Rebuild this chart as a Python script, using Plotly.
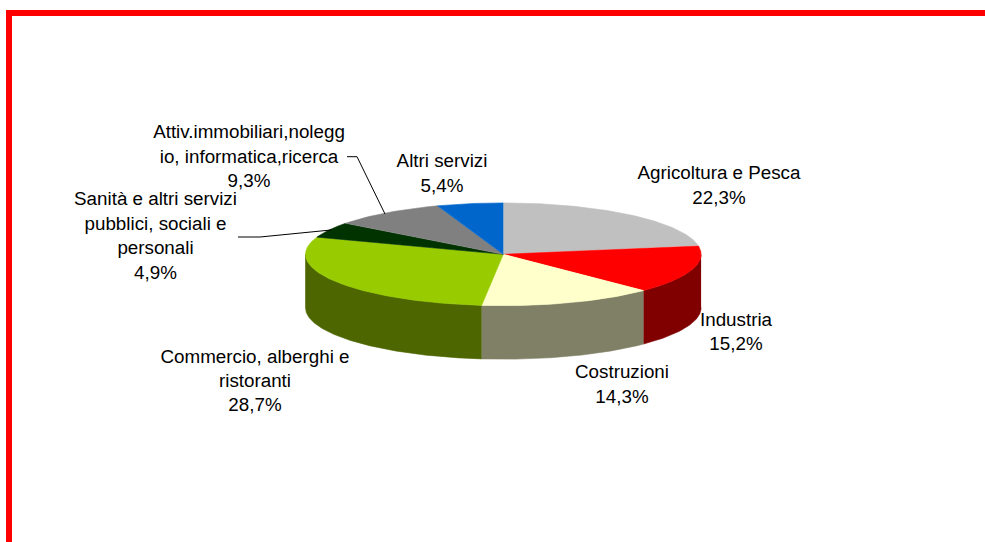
import math
import plotly.graph_objects as go

categories = ["Agricoltura e Pesca", "Industria", "Costruzioni",
              "Commercio, alberghi e ristoranti",
              "Sanità e altri servizi pubblici, sociali e personali",
              "Attiv.immobiliari,noleggio, informatica,ricerca", "Altri servizi"]
values = [22.3, 15.2, 14.3, 28.7, 4.9, 9.3, 5.4]
label_lines = [["Agricoltura e Pesca"], ["Industria"], ["Costruzioni"],
               ["Commercio, alberghi e", "ristoranti"],
               ["Sanità e altri servizi", "pubblici, sociali e", "personali"],
               ["Attiv.immobiliari,nolegg", "io, informatica,ricerca"], ["Altri servizi"]]
top_colors = ["#C0C0C0", "#FF0000", "#FFFFCC", "#99CC00", "#003300", "#808080", "#0066CC"]
side_colors = ["#606060", "#800000", "#808066", "#4D6600", "#001A00", "#404040", "#003366"]

# layout constants (pixel-scaled axes)
W, H = 985, 542
CX, CY, RX, RY, DEPTH = 503.3, 254.3, 197.8, 51.4, 53.5
label_centers = [(719, 174.5), (736, 321.5), (622, 373.5), (255, 358.5), (155.5, 200.5), (249, 133.5), (442, 162.5)]
LINE_H = [25, 24, 25, 24, 24.6, 24.5, 25]
FONT = dict(family="Liberation Sans, Arial, sans-serif", size=18.8, color="#000000")


def pt(a, dy=0.0):
    r = math.radians(a)
    return CX + RX * math.sin(r), CY - RY * math.cos(r) + dy


def arc(a0, a1, dy=0.0):
    n = max(2, int(abs(a1 - a0)) * 2 + 1)
    return [pt(a0 + (a1 - a0) * i / (n - 1), dy) for i in range(n)]


def add_poly(fig, pts, color, width=0.6):
    fig.add_trace(go.Scatter(x=[p[0] for p in pts], y=[p[1] for p in pts], mode="lines",
                             fill="toself", fillcolor=color, line=dict(color=color, width=width),
                             hoverinfo="skip", showlegend=False))


fig = go.Figure()
total = sum(values)
angles = [0.0]
for v in values:
    angles.append(angles[-1] + v / total * 360)

# side walls (visible front half only)
for i in range(len(values)):
    a0, a1 = max(angles[i], 90), min(angles[i + 1], 270)
    if a1 > a0:
        add_poly(fig, arc(a0, a1) + arc(a1, a0, DEPTH), side_colors[i])

# top faces
for i in range(len(values)):
    add_poly(fig, [(CX, CY)] + arc(angles[i], angles[i + 1]), top_colors[i])

# leader lines
fig.add_trace(go.Scatter(x=[347, 357, 385], y=[156.7, 156.7, 214], mode="lines",
                         line=dict(color="#000000", width=1), hoverinfo="skip", showlegend=False))
fig.add_trace(go.Scatter(x=[238, 260, 331], y=[237, 237, 230], mode="lines",
                         line=dict(color="#000000", width=1), hoverinfo="skip", showlegend=False))

# labels: one text mark per line for exact line pitch
tx, ty, tt = [], [], []
for i, lines in enumerate(label_lines):
    full = lines + [f"{values[i]:.1f}%".replace(".", ",")]
    x, y = label_centers[i]
    for j, s in enumerate(full):
        tx.append(x)
        ty.append(y + j * LINE_H[i])
        tt.append(s)
fig.add_trace(go.Scatter(x=tx, y=ty, text=tt, mode="text", textposition="middle center",
                         textfont=FONT, hoverinfo="skip", showlegend=False, cliponaxis=False))

# red frame
fig.add_trace(go.Scatter(x=[9, 9, W], y=[H, 13, 13], mode="lines",
                         line=dict(color="#FF0000", width=6), hoverinfo="skip", showlegend=False))

fig.update_layout(width=W, height=H, margin=dict(l=0, r=0, t=0, b=0),
                  paper_bgcolor="#FFFFFF", plot_bgcolor="#FFFFFF", showlegend=False,
                  xaxis=dict(range=[0, W], visible=False, fixedrange=True),
                  yaxis=dict(range=[H, 0], visible=False, fixedrange=True))
fig.write_html("out.html", config={"displayModeBar": False},
               default_width=f"{W}px", default_height=f"{H}px",
               post_script="document.body.style.margin='0';")
